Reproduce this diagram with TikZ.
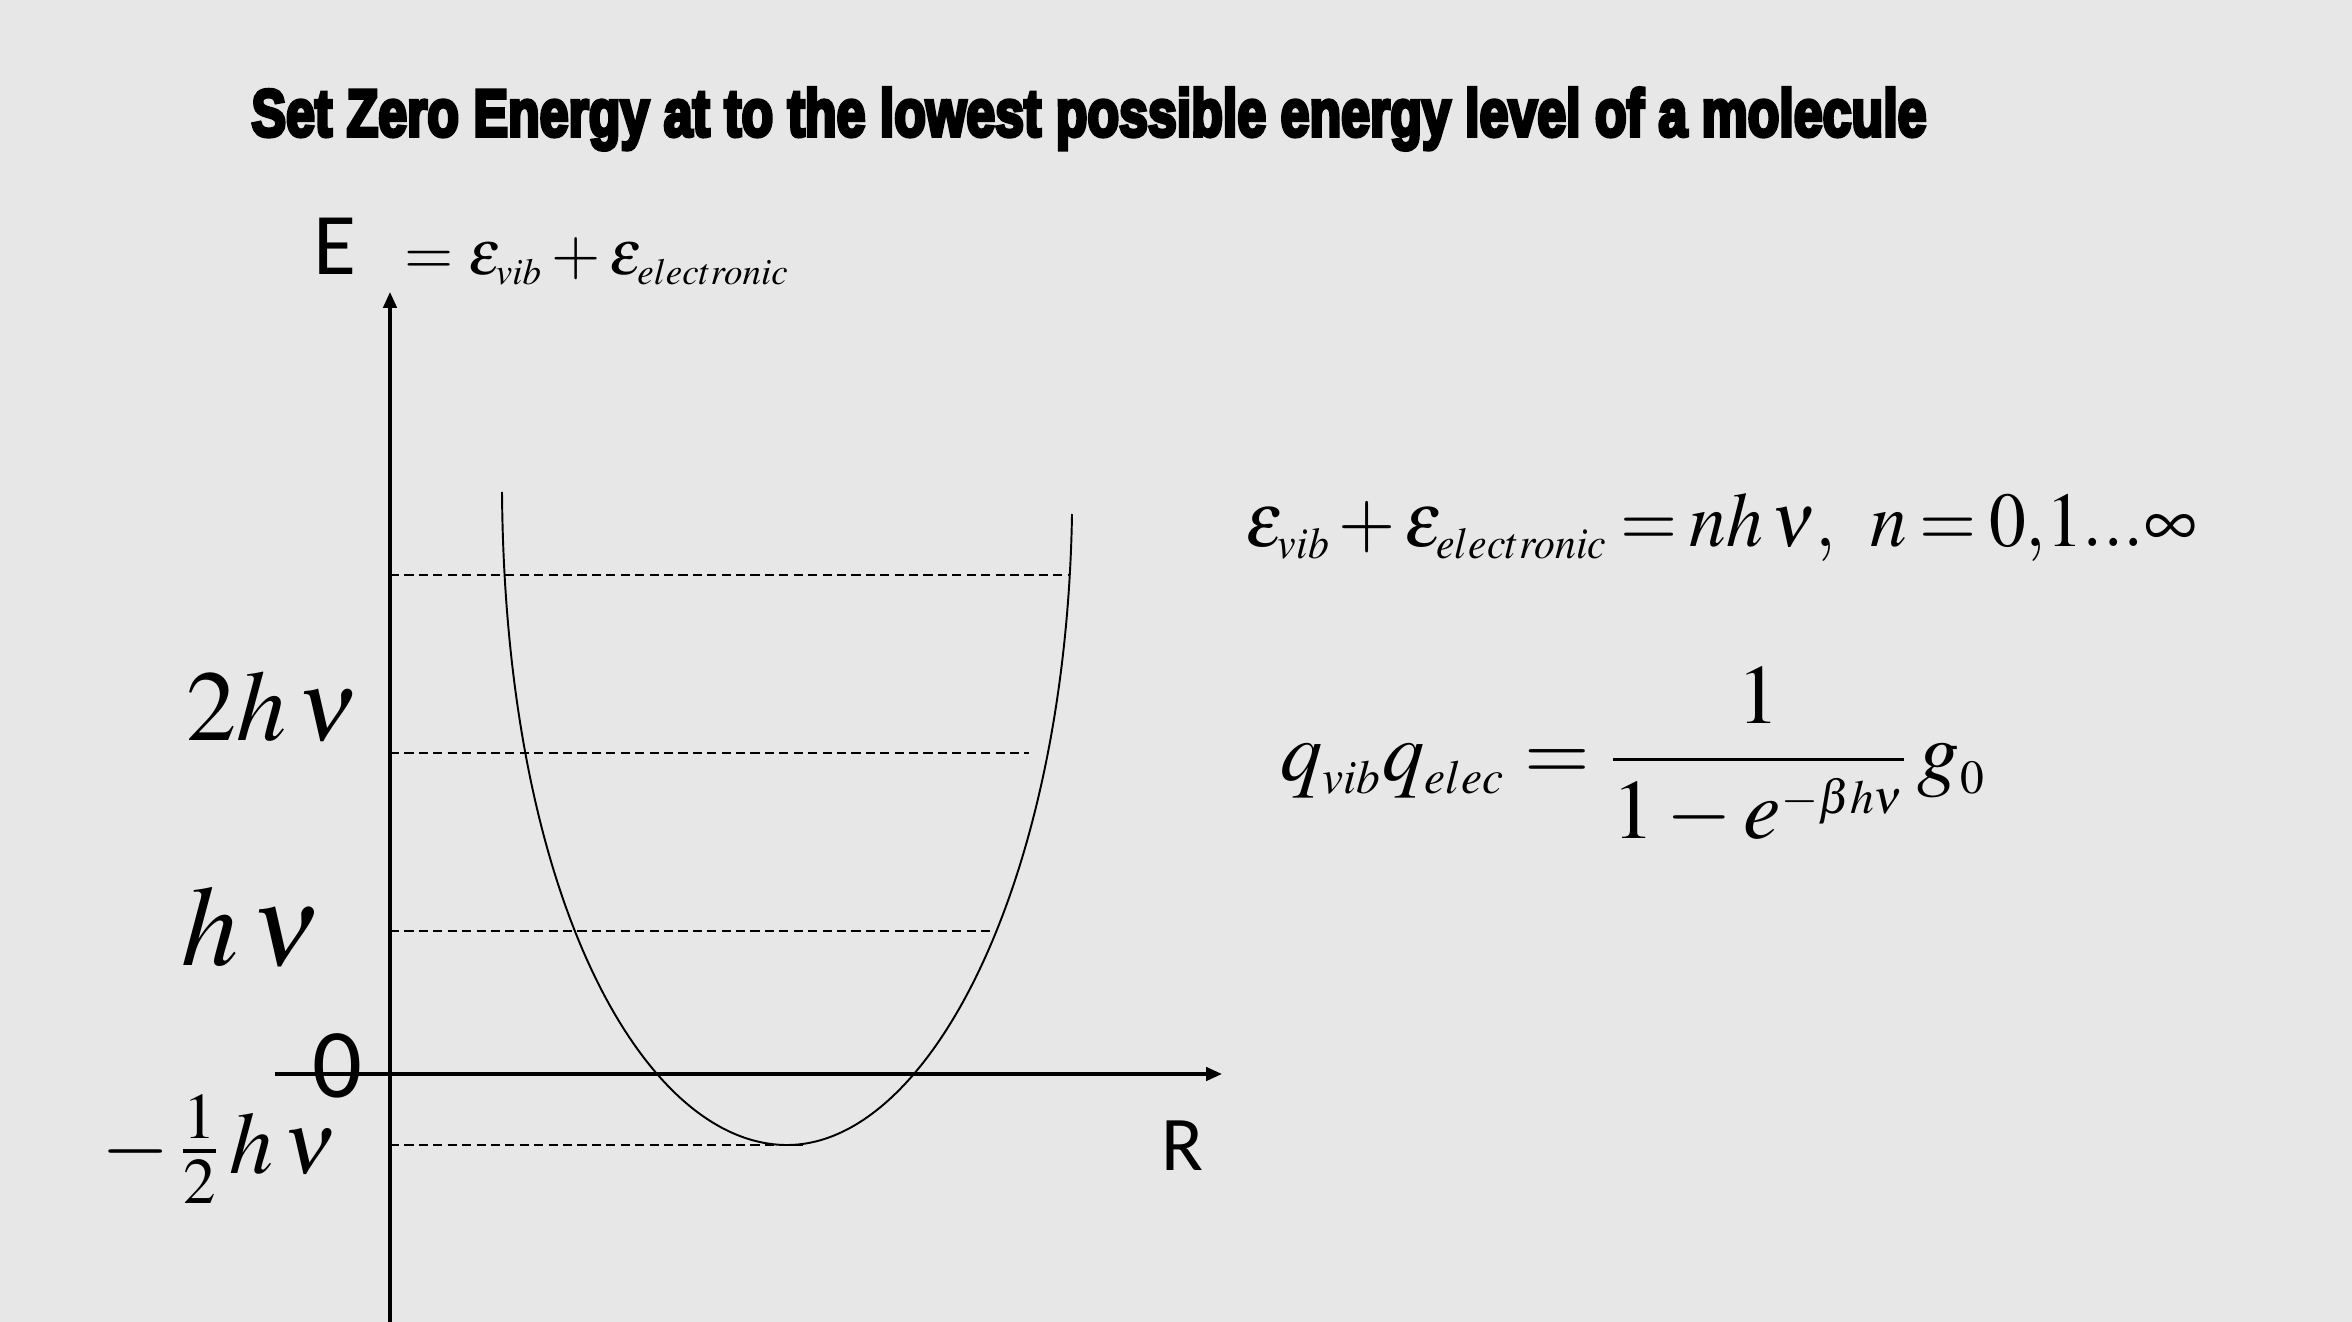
\documentclass[tikz,border=0pt]{standalone}
\usepackage[no-math]{fontspec}
\usepackage{mathptmx}
\setmainfont{Liberation Serif}
\newfontfamily\labelfont{Carlito}
\newfontface\titlefont{Liberation Sans Bold}[FakeBold=6]
\DeclareMathSizes{18}{18}{10.5}{8}
\DeclareMathSizes{22}{22}{12.5}{9}
\DeclareMathSizes{24}{24}{13.5}{10}
\usetikzlibrary{arrows.meta,positioning}
\definecolor{slidegray}{HTML}{E7E7E7}

\begin{document}
\begin{tikzpicture}[x=0.01cm,y=-0.01cm,>={Triangle[length=4.5pt,width=3.8pt]}]
  \tikzstyle{axis}=[line width=0.9pt]
  \tikzstyle{level}=[line width=0.55pt,dash pattern=on 2.6pt off 1.5pt]
  \tikzstyle{lbl}=[inner sep=0pt]
  \fill[slidegray] (0,0) rectangle (2352,1322);
  \useasboundingbox (0,0) rectangle (2352,1322);

  % title
  \node[lbl,anchor=base] (title) at (1089,136)
    {\resizebox{16.74cm}{0.48cm}{\titlefont Set Zero Energy at to the lowest possible energy level of a molecule}};

  % axes
  \coordinate (ybot) at (390,1322);
  \coordinate (ytop) at (390,292);
  \coordinate (xleft) at (275,1074);
  \coordinate (xright) at (1222,1074);
  \draw[axis,->] (ybot) -- (ytop);
  \draw[axis,->] (xleft) -- (xright);

  % potential well
  \coordinate (wellmin) at (787,1145);
  \draw[line width=0.55pt] (502,492) .. controls (505,900) and (645,1145) .. (wellmin)
    .. controls (930,1145) and (1066,880) .. (1072,514);

  % vibrational levels
  \foreach \y/\xe in {575/1070,753/1029,931/993,1145/805}
    \draw[level] (390,\y) -- (\xe,\y);

  % level labels
  \node[lbl,anchor=base,font=\fontsize{28.5}{30}\selectfont] (ltwo) at (272,740) {$2h\,\nu$};
  \node[lbl,anchor=base,font=\fontsize{32.5}{34}\selectfont] (lone) at (251,965) {$h\,\nu$};
  \node[lbl,anchor=base,font=\labelfont\fontsize{28}{30}\selectfont] (zero) at (337,1097) {0};
  \node[lbl,anchor=base,font=\fontsize{25}{27}\selectfont] (lhalf) at (219,1173) {$-\,\frac{1}{2}\,h\,\nu$};

  % axis labels
  \node[lbl,anchor=base,font=\labelfont\fontsize{22}{24}\selectfont] (rlab) at (1182,1170) {R};
  \node[lbl,anchor=base,font=\labelfont\fontsize{25}{27}\selectfont] (elab) at (335,275) {E};
  \node[lbl,base right=0.47cm of elab,font=\fontsize{18}{20}\selectfont] (esum)
    {$=\epsilon_{vib}+\epsilon_{electronic}$};

  % equations
  \node[lbl,anchor=base,xscale=0.95,font=\fontsize{22}{24}\selectfont] (eqlevels) at (1721,547)
    {$\thickmuskip=3mu\medmuskip=2mu
      \epsilon_{vib}+\epsilon_{electronic}=nh\,\nu,\ \,n=0{,}1{.}{.}{.}\infty$};
  \node[lbl,font=\fontsize{24}{26}\selectfont] (eqpart) at (1633,756)
    {$q_{vib}q_{elec}=\displaystyle\frac{1}{1-e^{-\beta h\nu}}\,g_0$};
\end{tikzpicture}
\end{document}
